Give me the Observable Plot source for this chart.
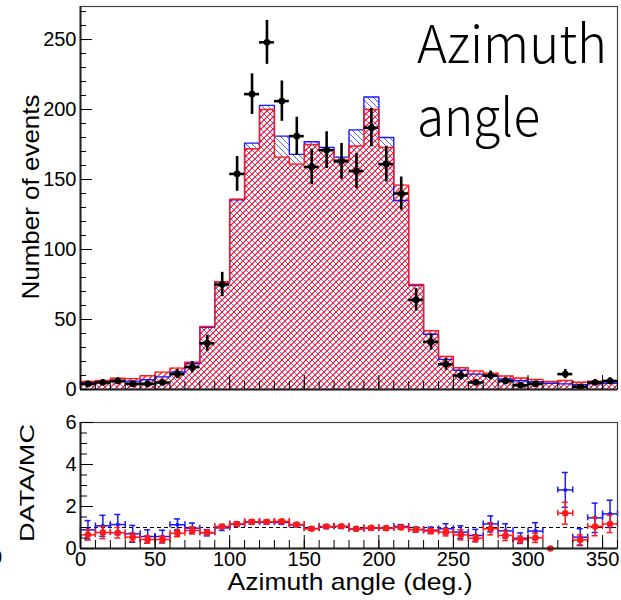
<!DOCTYPE html>
<html><head><meta charset="utf-8">
<script src="https://cdn.jsdelivr.net/npm/d3@7"></script>
<script src="https://cdn.jsdelivr.net/npm/@observablehq/plot@0.6"></script>
<style>
body{margin:0;background:#fff;}
#wrap{position:relative;width:621px;height:600px;overflow:hidden;font-family:"Liberation Sans",Arial,sans-serif;}
#topPanel,#botPanel{position:absolute;left:0;}
#topPanel{top:0}
#botPanel{top:400px}
#overlay{position:absolute;left:0;top:0;pointer-events:none}
</style></head>
<body><div id="wrap">
<svg width="0" height="0" style="position:absolute">
<defs>
<pattern id="hatchBlue" patternUnits="userSpaceOnUse" width="6" height="6">
<path d="M0,0 L6,6 M-1,5 L1,7 M5,-1 L7,1" stroke="#4a4aff" stroke-width="0.9"/>
</pattern>
<pattern id="hatchRed" patternUnits="userSpaceOnUse" width="6" height="6">
<path d="M0,6 L6,0 M-1,1 L1,-1 M5,7 L7,5" stroke="#ff2020" stroke-width="1.25"/>
</pattern>
</defs></svg>
<div id="topPanel"></div><div id="botPanel"></div>
<svg id="overlay" width="621" height="600" font-family="Liberation Sans, Arial, sans-serif">
<text transform="translate(39,197) rotate(-90)" text-anchor="middle" font-size="24" textLength="205" lengthAdjust="spacingAndGlyphs">Number of events</text>
<text transform="translate(34,483) rotate(-90)" text-anchor="middle" font-size="21" textLength="118" lengthAdjust="spacingAndGlyphs">DATA/MC</text>
<text x="350" y="590" text-anchor="middle" font-size="24" textLength="245" lengthAdjust="spacingAndGlyphs">Azimuth angle (deg.)</text>
<text x="2" y="564" text-anchor="end" font-size="20">0</text>
<text x="417" y="63" font-family="Noto Sans CJK JP, Noto Sans, sans-serif" font-weight="300" font-size="52" textLength="190" lengthAdjust="spacingAndGlyphs">Azimuth</text>
<text x="417" y="136" font-family="Noto Sans CJK JP, Noto Sans, sans-serif" font-weight="300" font-size="52" textLength="123" lengthAdjust="spacingAndGlyphs">angle</text>
</svg>
</div>
<script>
// ---- data (36 bins of 10 degrees) ----
const binLo = [0,10,20,30,40,50,60,70,80,90,100,110,120,130,140,150,160,170,180,190,200,210,220,230,240,250,260,270,280,290,300,310,320,330,340,350];
const dataCounts = [4,5,6,4,4,5,11,16,33,75,154,211,248,206,181,159,171,163,156,187,161,140,64,34,18,10,5,10,6,3,4,0,11,2,5,6];
const dataErr = [2,2.2,2.4,2,2,2.2,3.3,4,5.7,8.7,12.4,14.5,15.7,14.4,13.5,12.6,13.1,12.8,12.5,13.7,12.7,11.8,8,5.8,4.2,3.2,2.2,3.2,2.4,1.7,2,0,3.3,1.4,2.2,2.4];
const mcBlue = [4.9,5.7,6.5,6,7,9,12.5,18.5,44.5,77,135.5,176,203,181,168,177,173,166,185.5,209,180,135,74.5,39.5,21.5,13.8,11,9.5,7.5,6.3,5.5,4.5,4,3.5,4,4.5];
const mcRed = [5.7,6.4,8,7.8,9.8,12.4,15.3,19.5,45,77,136,172,200,166,161,175,171,164,174,200,173,146,75,42,23.6,15.5,13.3,11.7,9.6,8.2,7.2,5.7,6.4,5.2,5.9,6.4];
const ratioBlue = [0.89,1.08,1.14,0.7,0.57,0.57,1.13,0.97,0.75,0.98,1.15,1.25,1.25,1.24,1.12,0.95,1.03,1.04,0.92,0.96,0.96,1.05,0.9,0.87,0.94,0.78,0.62,1.17,0.84,0.49,0.83,null,2.79,0.54,1.46,1.65];
const ratioBlueErr = [0.44,0.5,0.48,0.4,0.32,0.3,0.28,0.24,0.15,0.12,0.1,0.09,0.09,0.09,0.09,0.08,0.08,0.08,0.08,0.08,0.08,0.09,0.12,0.15,0.24,0.3,0.29,0.38,0.34,0.25,0.4,0,0.83,0.4,0.7,0.65];
const ratioRed = [0.65,0.76,0.75,0.54,0.43,0.43,0.73,0.86,0.76,1.05,1.17,1.27,1.27,1.29,1.14,0.94,1.05,1.06,0.94,0.98,0.97,1.0,0.9,0.83,0.78,0.65,0.49,0.94,0.62,0.43,0.51,0,1.68,0.41,1.05,1.17];
const ratioRedErr = [0.25,0.29,0.25,0.2,0.18,0.16,0.17,0.17,0.1,0.09,0.08,0.08,0.08,0.08,0.08,0.07,0.07,0.07,0.07,0.07,0.07,0.08,0.1,0.12,0.18,0.24,0.17,0.29,0.24,0.16,0.22,0,0.52,0.24,0.44,0.41];
const xMajor = [0,50,100,150,200,250,300,350];
const yMajorTop = [0,50,100,150,200,250];
const yMajorBot = [0,2,4,6];

const BW = 10;
const steps = vals => binLo.map((lo,i)=>({x:lo, v:vals[i]})).concat([{x:binLo[binLo.length-1]+BW, v:vals[vals.length-1]}]);
const dataRows = binLo.map((lo,i)=>({lo, hi:lo+BW, c:lo+BW/2, v:dataCounts[i], e:dataErr[i]})).filter(d=>d.v>0);
const ratioRows = (r,e) => binLo.map((lo,i)=>({lo, hi:lo+BW, c:lo+BW/2, r:r[i], e:e[i]})).filter(d=>d.r!=null);
const xMinor = d3.range(0,361,10);

const BLUE="#1a1aff", RED="#ff1a1a";
const common = {width:621, marginLeft:80, marginRight:4, style:{fontFamily:"Liberation Sans, Arial, sans-serif", color:"black", background:"transparent", overflow:"visible"}};

const topPlot = Plot.plot({
  ...common, height:400, marginTop:6, marginBottom:11,
  x:{domain:[0,360], axis:null},
  y:{domain:[0,273.6], axis:null},
  marks:[
    Plot.areaY(steps(mcBlue), {x:"x", y:"v", curve:"step-after", fill:"url(#hatchBlue)"}),
    Plot.areaY(steps(mcRed), {x:"x", y:"v", curve:"step-after", fill:"url(#hatchRed)"}),
    Plot.lineY(steps(mcBlue), {x:"x", y:"v", curve:"step-after", stroke:BLUE, strokeWidth:1.4}),
    Plot.lineY(steps(mcRed), {x:"x", y:"v", curve:"step-after", stroke:RED, strokeWidth:1.4}),
    Plot.ruleY(dataRows, {x1:"lo", x2:"hi", y:"v", stroke:"black", strokeWidth:2.6}),
    Plot.ruleX(dataRows, {x:"c", y1:d=>d.v-d.e, y2:d=>d.v+d.e, stroke:"black", strokeWidth:2.6}),
    Plot.dot(dataRows, {x:"c", y:"v", r:3.3, fill:"black"}),
    Plot.frame({stroke:"#444", strokeWidth:1.2}),
    Plot.ruleX([0], {stroke:"#222", strokeWidth:2}),
    Plot.ruleY([0], {stroke:"#222", strokeWidth:2}),
    Plot.axisY(yMajorTop, {tickSize:-12, fill:"none", label:null}),
    Plot.axisY(d3.range(0,271,10), {tickSize:-6, fill:"none", label:null}),
    Plot.axisY(yMajorTop, {tickSize:0, tickPadding:4, fontSize:20, label:null}),
    Plot.axisX(xMajor, {tickSize:-14, fill:"none", label:null}),
    Plot.axisX(xMinor, {tickSize:-8, fill:"none", label:null})
  ]
});
document.getElementById("topPanel").appendChild(topPlot);

const rb = ratioRows(ratioBlue, ratioBlueErr);
const rr = ratioRows(ratioRed, ratioRedErr);
const errMarks = (rows, col, w, rad) => {
  const withBars = rows.filter(d=>d.e>0);
  return [
    Plot.ruleY(withBars, {x1:"lo", x2:"hi", y:"r", stroke:col, strokeWidth:w}),
    Plot.ruleX(withBars, {x:"c", y1:d=>d.r-d.e, y2:d=>d.r+d.e, stroke:col, strokeWidth:w}),
    Plot.ruleY(withBars, {x1:"c", x2:"c", y:d=>d.r+d.e, insetLeft:-3, insetRight:-3, stroke:col, strokeWidth:w}),
    Plot.ruleY(withBars, {x1:"c", x2:"c", y:d=>d.r-d.e, insetLeft:-3, insetRight:-3, stroke:col, strokeWidth:w}),
    Plot.ruleX(withBars, {x:"lo", y1:"r", y2:"r", insetTop:-3, insetBottom:-3, stroke:col, strokeWidth:w}),
    Plot.ruleX(withBars, {x:"hi", y1:"r", y2:"r", insetTop:-3, insetBottom:-3, stroke:col, strokeWidth:w}),
    Plot.dot(rows, {x:"c", y:"r", r:rad, fill:col})
  ];
};

const botPlot = Plot.plot({
  ...common, height:200, marginTop:22, marginBottom:52,
  x:{domain:[0,360], axis:null},
  y:{domain:[0,6], axis:null},
  marks:[
    Plot.ruleY([1], {stroke:"black", strokeWidth:1.2, strokeDasharray:"4,3"}),
    ...errMarks(rb, BLUE, 1.5, 2),
    ...errMarks(rr, RED, 1.5, 3.3),
    Plot.frame({stroke:"#444", strokeWidth:1.2}),
    Plot.ruleX([0], {stroke:"#222", strokeWidth:2}),
    Plot.ruleY([0], {stroke:"#222", strokeWidth:2}),
    Plot.axisY(yMajorBot, {tickSize:-13, fill:"none", label:null}),
    Plot.axisY(d3.range(0,6.01,0.5), {tickSize:-7, fill:"none", label:null}),
    Plot.axisY(yMajorBot, {tickSize:0, tickPadding:4, fontSize:20, label:null}),
    Plot.axisX(xMajor, {tickSize:-13, fill:"none", label:null}),
    Plot.axisX(xMinor, {tickSize:-8, fill:"none", label:null}),
    Plot.axisX(xMajor, {tickSize:0, tickPadding:3, fontSize:20, label:null})
  ]
});
document.getElementById("botPanel").appendChild(botPlot);
</script>
</body></html>
